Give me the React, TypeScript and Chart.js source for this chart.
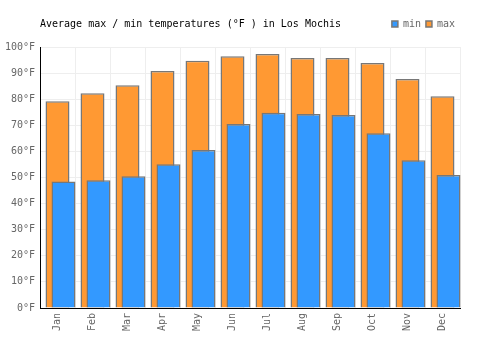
import React, { useEffect, useRef } from 'react';
import { Chart, registerables } from 'chart.js';

Chart.register(...registerables);

const titleText = 'Average max / min temperatures (°F ) in Los Mochis';
const months = ['Jan', 'Feb', 'Mar', 'Apr', 'May', 'Jun', 'Jul', 'Aug', 'Sep', 'Oct', 'Nov', 'Dec'];
const minTemps = [48.5, 48.9, 50.5, 55.1, 60.5, 70.5, 74.8, 74.3, 73.9, 67.0, 56.6, 51.0];
const maxTemps = [79.2, 82.3, 85.3, 90.8, 94.7, 96.5, 97.3, 95.8, 95.8, 93.9, 87.7, 81.1];
const spacer = [null, null, null, null, null, null, null, null, null, null, null, null];
const yMin = 0;
const yMax = 100;
const yStep = 10;
const unit = '°F';

const FONT = 'DejaVu Sans Mono';

const rowPlugin = {
  id: 'rowPlugin',
  afterLayout(chart: any) {
    const t = chart.titleBlock;
    if (t) {
      const h = t.height;
      t.top = 18;
      t.bottom = 18 + h;
    }
    const lg = chart.legend;
    if (lg) {
      const h = lg.height;
      lg.top = 14;
      lg.bottom = 14 + h;
    }
  },
  // draw the "min" dataset (index 0) last so it sits on top of "max"
  beforeDatasetDraw(chart: any, args: any) {
    if (args.index === 0) return false;
    return true;
  },
  afterDatasetsDraw(chart: any) {
    const meta = chart.getDatasetMeta(0);
    if (meta && !meta.hidden) {
      const ctx = chart.ctx;
      ctx.save();
      meta.controller.draw();
      ctx.restore();
    }
  },
};

export default function App() {
  const ref = useRef<HTMLCanvasElement | null>(null);

  useEffect(() => {
    if (!ref.current) return;
    const chart = new Chart(ref.current, {
      type: 'bar',
      data: {
        labels: months,
        datasets: [
          {
            label: 'min',
            data: minTemps,
            backgroundColor: '#3399ff',
            borderColor: '#777777',
            borderWidth: 1.5,
            order: 2,
          } as any,
          {
            label: 'max',
            data: maxTemps,
            backgroundColor: '#ff9933',
            borderColor: '#777777',
            borderWidth: 1.5,
            order: 1,
          } as any,
          {
            label: '',
            data: spacer,
            backgroundColor: 'rgba(0,0,0,0)',
            borderWidth: 0,
            order: 0,
          } as any,
        ],
      },
      options: {
        animation: false,
        responsive: true,
        maintainAspectRatio: false,
        datasets: {
          bar: { categoryPercentage: 0.514, barPercentage: 4 },
        },
        layout: { padding: { top: 10, left: 0, right: 40, bottom: 0 } },
        plugins: {
          title: {
            display: true,
            text: titleText,
            align: 'start',
            fullSize: false,
            color: '#000',
            font: { family: FONT, size: 10, weight: 'normal' },
            padding: { top: 0, bottom: 0 },
          },
          legend: {
            display: true,
            position: 'top',
            align: 'end',
            fullSize: false,
            labels: {
              boxWidth: 6,
              boxHeight: 6,
              padding: 5,
              color: '#666',
              font: { family: FONT, size: 10 },
              filter: (item: any) => item.text !== '',
              sort: (a: any, b: any) => a.datasetIndex - b.datasetIndex,
            },
          },
          tooltip: { enabled: false },
        },
        scales: {
          x: {
            type: 'category',
            position: 'bottom',
            offset: true,
            grid: { offset: true, color: '#eeeeee', drawTicks: false },
            border: { color: '#000', width: 1 },
            ticks: {
              color: '#666',
              font: { family: FONT, size: 10 },
              maxRotation: 90,
              minRotation: 90,
              autoSkip: false,
              padding: 5,
            },
            afterFit: (scale: any) => {
              scale.height = 42;
            },
          },
          y: {
            min: yMin,
            max: yMax,
            grid: { color: '#eeeeee', drawTicks: false },
            border: { color: '#000', width: 1 },
            ticks: {
              stepSize: yStep,
              color: '#666',
              padding: 5,
              font: { family: FONT, size: 10 },
              callback: (v: any) => v + unit,
            },
            afterFit: (scale: any) => {
              scale.width = 40;
            },
          },
        },
      } as any,
      plugins: [rowPlugin],
    });
    return () => chart.destroy();
  }, []);

  return (
    <div style={{ position: 'fixed', left: 0, top: 0, width: 500, height: 350 }}>
      <canvas ref={ref} />
    </div>
  );
}
